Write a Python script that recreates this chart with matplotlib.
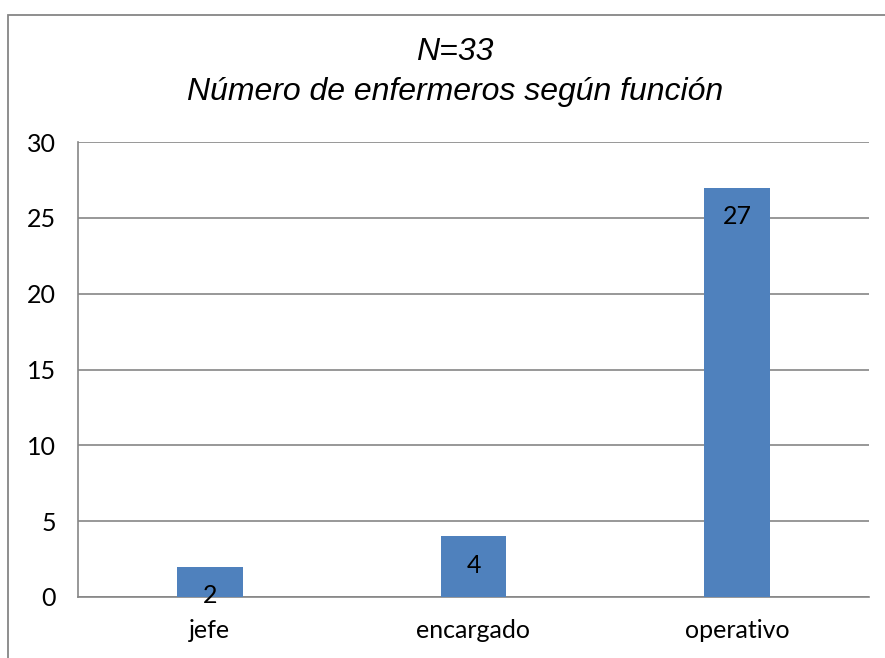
import matplotlib
matplotlib.use("Agg")
import matplotlib.pyplot as plt
from matplotlib.patches import Rectangle

categories = ["jefe", "encargado", "operativo"]
values = [2, 4, 27]
yticks = [0, 5, 10, 15, 20, 25, 30]
title_lines = ["N=33", "Número de enfermeros según función"]

W, H = 885, 658
fig = plt.figure(figsize=(W / 100, H / 100), dpi=100)
fig.patch.set_facecolor("white")

# outer chart border
fig.add_artist(Rectangle((8 / W, -0.1), 1.2, 1 - 14.5 / H + 0.1, transform=fig.transFigure,
                         fill=False, edgecolor="#868686", linewidth=1.3))

ax = fig.add_axes([78 / W, 1 - 597 / H, (869 - 78) / W, (597 - 142) / H])
x = list(range(len(categories)))
bars = ax.bar(x, values, width=0.25, color="#4F81BD", zorder=3)
ax.set_xlim(-0.5, len(categories) - 0.5)
ax.set_ylim(0, 30)
ax.set_yticks(yticks)
ax.set_xticks(x)
ax.set_xticklabels(categories)
ax.tick_params(length=0, labelsize=18, colors="black")
ax.tick_params(axis="x", pad=16)
ax.tick_params(axis="y", pad=16)
for lbl in ax.get_xticklabels() + ax.get_yticklabels():
    lbl.set_fontfamily("Lato")
ax.grid(axis="y", color="#868686", linewidth=1.2, zorder=0)
for s in ["top", "right"]:
    ax.spines[s].set_visible(False)
for s in ["left", "bottom"]:
    ax.spines[s].set_color("#868686")
    ax.spines[s].set_linewidth(1.2)

for xi, v in zip(x, values):
    ax.annotate(str(v), (xi, v), xytext=(0, -29), textcoords="offset pixels",
                ha="center", va="center", fontsize=18, fontfamily="Lato", zorder=4)

fig.text(455 / W, 1 - 52 / H, title_lines[0], ha="center", va="center",
         fontsize=23, style="italic", fontfamily="Liberation Sans")
fig.text(455 / W, 1 - 92 / H, title_lines[1], ha="center", va="center",
         fontsize=23, style="italic", fontfamily="Liberation Sans")

fig.savefig("out.png", dpi=100)
